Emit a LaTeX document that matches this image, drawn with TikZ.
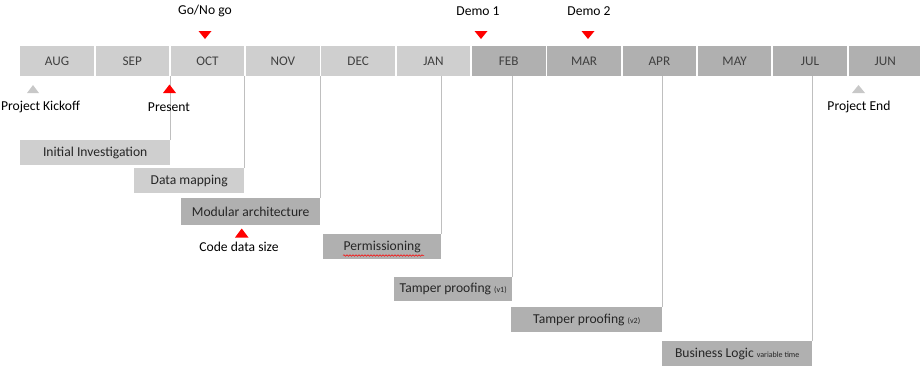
\documentclass[tikz,border=0pt]{standalone}
\usepackage{fontspec}
\setmainfont{Carlito}
\usetikzlibrary{decorations.pathmorphing}
\definecolor{lightbar}{HTML}{CFCFCF}
\definecolor{darkbar}{HTML}{B0B0B0}
\definecolor{txt}{HTML}{404040}
\definecolor{guide}{HTML}{BFBFBF}
\definecolor{markred}{HTML}{FF0000}
\definecolor{graymark}{HTML}{C8C8C8}
\newcommand{\tinytxt}{\fontsize{8}{9}\selectfont}
\tikzset{
  month/.style={fill=#1,draw=none,minimum width=73.5pt,minimum height=30pt,inner sep=0pt,anchor=north west,font=\fontsize{13.2}{15}\selectfont,text=txt},
  task/.style={fill=#1,draw=none,minimum height=25pt,inner sep=0pt,anchor=north west,font=\fontsize{13.6}{15}\selectfont,text=black!85},
  lbl/.style={font=\fontsize{13.6}{15}\selectfont,text=black,inner sep=0pt},
  guideline/.style={draw=guide,line width=0.9pt}
}
\begin{document}
\begin{tikzpicture}[x=1pt,y=-1pt]
\useasboundingbox (0,0) rectangle (920,368);
% month bar
\foreach \m [count=\i from 0] in {AUG,SEP,OCT,NOV,DEC,JAN}{
  \node[month=lightbar] (m\i) at (20+75.3*\i,46) {\m};
}
\foreach \m [count=\i from 6] in {FEB,MAR,APR,MAY,JUL,JUN}{
  \node[month=darkbar] (m\i) at (20+75.3*\i,46) {\m};
}
\coordinate (barbottom) at (0,76);
% tasks
\node[task=lightbar,minimum width=150pt] (t1) at (20,140) {Initial Investigation};
\node[task=lightbar,minimum width=110pt] (t2) at (134,168) {Data mapping};
\node[task=darkbar,minimum width=139pt,minimum height=27pt] (t3) at (181,198) {Modular architecture};
\node[task=darkbar,minimum width=118pt] (t4) at (323,234) {Permissioning};
\node[task=darkbar,minimum width=118pt,minimum height=24pt] (t5) at (394,277) {Tamper proofing {\tinytxt (v1)}};
\node[task=darkbar,minimum width=151pt] (t6) at (511,307) {Tamper proofing {\tinytxt (v2)}};
\node[task=darkbar,minimum width=150pt] (t7) at (662,341) {Business Logic {\tinytxt variable time}};
% guide lines
\foreach \t in {t1,t2,t3,t4,t5,t6,t7}{
  \draw[guideline] (\t.north east) -- (\t.north east |- barbottom);
}
% spell-check squiggle
\draw[markred,line width=0.5pt,decorate,decoration={snake,amplitude=0.8pt,segment length=3pt}] (343,255.5) -- (424,255.5);
% markers above
\fill[markred] (198.5,31) -- (211.5,31) -- (205,39) -- cycle;
\fill[markred] (474.5,31) -- (487.5,31) -- (481,39) -- cycle;
\fill[markred] (581.5,31) -- (594.5,31) -- (588,39) -- cycle;
\node[lbl] (gonogo) at (205,11) {Go/No go};
\node[lbl] (demo1) at (478,11) {Demo 1};
\node[lbl] (demo2) at (589,11) {Demo 2};
% markers below
\fill[graymark] (27,93) -- (39,93) -- (33,85) -- cycle;
\fill[markred] (163,93) -- (176,93) -- (169.5,84.5) -- cycle;
\fill[graymark] (852,93) -- (865,93) -- (858.5,85) -- cycle;
\fill[markred] (235,237.5) -- (248.5,237.5) -- (241.7,228.5) -- cycle;
\node[lbl] (kickoff) at (40.5,107) {Project Kickoff};
\node[lbl] (present) at (169,107) {Present};
\node[lbl] (pend) at (859,107) {Project End};
\node[lbl] (codesize) at (239,247) {Code data size};
\end{tikzpicture}
\end{document}
